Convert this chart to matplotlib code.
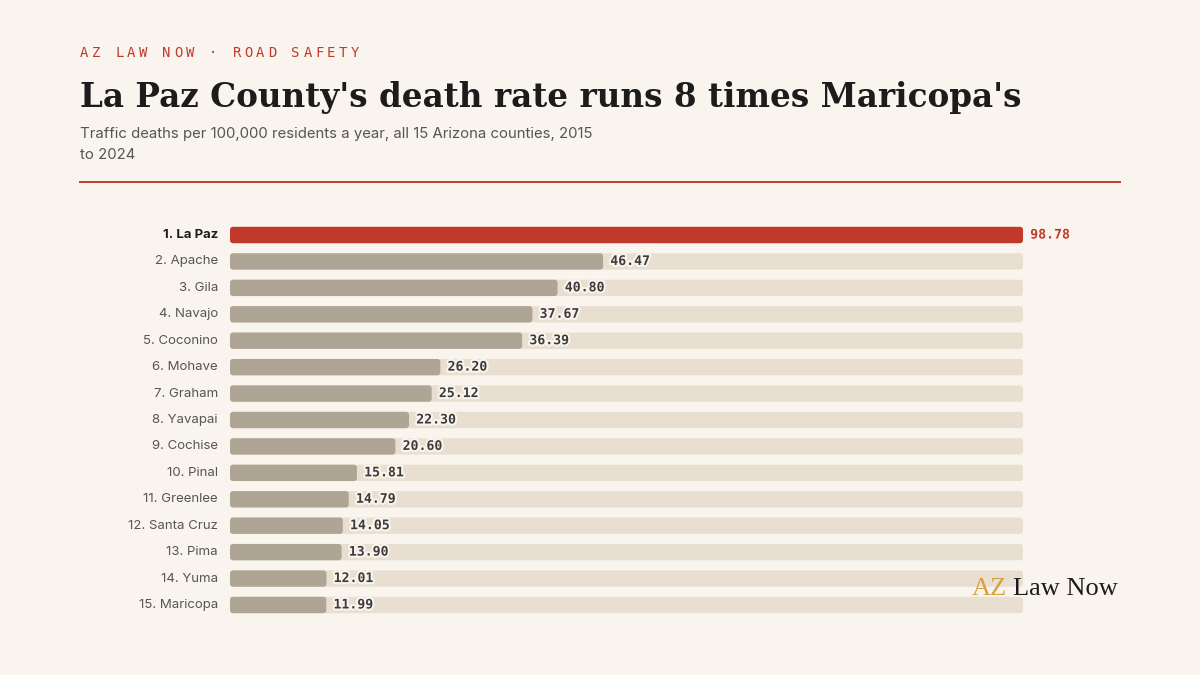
import matplotlib.pyplot as plt
import matplotlib.patheffects as pe
from matplotlib.patches import FancyBboxPatch

counties = ["La Paz", "Apache", "Gila", "Navajo", "Coconino", "Mohave", "Graham",
            "Yavapai", "Cochise", "Pinal", "Greenlee", "Santa Cruz", "Pima", "Yuma", "Maricopa"]
rates = [98.78, 46.47, 40.80, 37.67, 36.39, 26.20, 25.12, 22.30, 20.60,
         15.81, 14.79, 14.05, 13.90, 12.01, 11.99]

BG = "#f9f5ee"
RED = "#c0392b"
GREY = "#afa594"
TRACK = "#e8dfd0"

fig = plt.figure(figsize=(12, 6.75), dpi=100)
fig.patch.set_facecolor(BG)

W, H = 1200, 675


def fx(px):
    return px / W


def fy(py):
    return 1 - py / H


# eyebrow, drawn letter by letter for the wide tracking
eyebrow = "AZ LAW NOW · ROAD SAFETY"
for i, ch in enumerate(eyebrow):
    fig.text(fx(80 + i * 11.75), fy(53), ch, color=RED, fontsize=10,
             family="DejaVu Sans Mono", va="center", ha="left")

fig.text(fx(80), fy(98), "La Paz County's death rate runs 8 times Maricopa's",
         family="DejaVu Serif", weight="bold", fontsize=23.5, color="#1c1c1c",
         va="center", ha="left")
fig.text(fx(80), fy(134), "Traffic deaths per 100,000 residents a year, all 15 Arizona counties, 2015",
         family="Inter", fontsize=10.75, color="#555555", va="center")
fig.text(fx(80), fy(155), "to 2024", family="Inter", fontsize=10.75, color="#555555", va="center")

fig.add_artist(plt.Line2D([fx(80), fx(1120)], [fy(182), fy(182)], color=RED, lw=1.4))

# bars
n = len(counties)
top_px, bot_px = 221.8, 618.2
ax = fig.add_axes([fx(230), fy(bot_px), fx(1023) - fx(230), (bot_px - top_px) / H])
ax.set_facecolor(BG)
ymax = max(rates)
ax.set_xlim(0, ymax)
ax.set_ylim(n - 0.5, -0.5)
ax.axis("off")

x_per_px = ymax / (1023 - 230)
y_per_px = n / (bot_px - top_px)
r = 3 * x_per_px
bh = 0.62


def rbar(x0, w, y, color, z):
    p = FancyBboxPatch((x0, y - bh / 2), w, bh,
                       boxstyle=f"round,pad=0,rounding_size={r}",
                       mutation_aspect=y_per_px / x_per_px,
                       fc=color, ec="none", zorder=z)
    ax.add_patch(p)


for i, (c, v) in enumerate(zip(counties, rates)):
    top = i == 0
    rbar(0, ymax, i, TRACK, 1)
    rbar(0, v, i, RED if top else GREY, 2)
    ax.text(v + 0.9, i, f"{v:.2f}", va="center", ha="left",
            family="DejaVu Sans Mono", weight="bold", fontsize=9.5,
            color=RED if top else "#3b3b3b", zorder=3,
            path_effects=[pe.withStroke(linewidth=3, foreground=BG)])
    ax.text(-1.5, i, f"{i + 1}. {c}", va="center", ha="right",
            family="Inter", fontsize=9.5,
            weight="bold" if top else "normal",
            color="#1c1c1c" if top else "#555555")

# logo
fig.text(fx(972), fy(589), "AZ", family="Liberation Serif", fontsize=19,
         color="#d9a040", va="center", ha="left")
fig.text(fx(1013), fy(589), "Law Now", family="Liberation Serif", fontsize=19,
         color="#1c1c1c", va="center", ha="left")

fig.savefig("out.png", dpi=100, facecolor=BG)
